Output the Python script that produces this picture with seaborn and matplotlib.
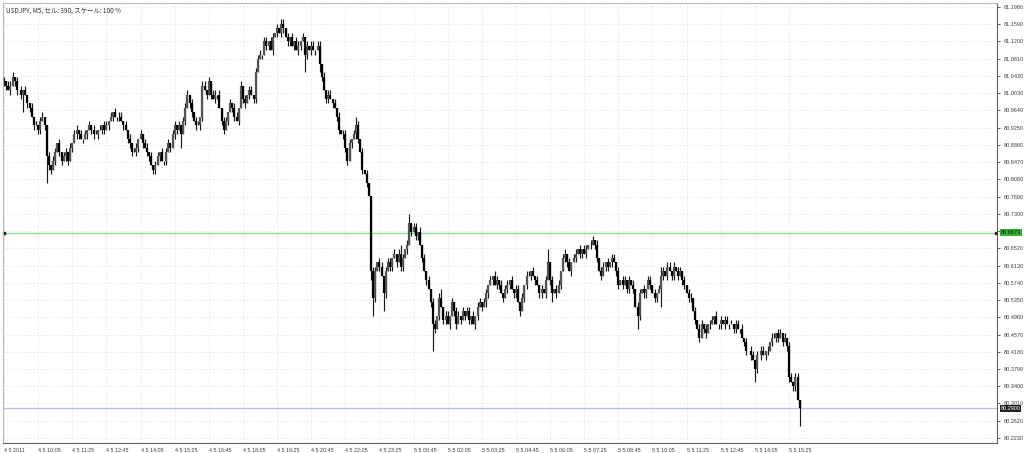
import numpy as np
import pandas as pd
import matplotlib
matplotlib.use("Agg")
import matplotlib.pyplot as plt
import matplotlib.transforms as mtransforms
import seaborn as sns

# chart header
chart_title = "USDJPY, M5, セル: 390, スケール: 100 %"

# close of every 5 minute bar, in pips above 80.00
first_open = 103
close_pips = [
    103, 102, 101, 102, 104, 103, 101, 101, 100, 101, 100, 98, 97, 95, 93, 93, 92, 94, 95, 93,
    86, 84, 83, 85, 87, 89, 87, 85, 86, 87, 85, 88, 89, 91, 92, 91, 90, 90, 91, 92,
    93, 92, 91, 91, 92, 92, 93, 92, 93, 94, 95, 96, 95, 95, 95, 94, 93, 92, 90, 89,
    87, 87, 88, 90, 91, 89, 88, 87, 86, 84, 83, 84, 86, 87, 85, 85, 87, 89, 88, 91,
    93, 92, 93, 91, 94, 97, 100, 98, 96, 94, 93, 93, 95, 102, 101, 100, 103, 100, 99, 100,
    100, 97, 94, 92, 94, 96, 98, 97, 95, 94, 97, 102, 99, 98, 100, 101, 100, 99, 105, 108,
    109, 109, 112, 111, 112, 110, 113, 114, 115, 114, 116, 115, 113, 112, 113, 111, 112, 110, 111, 112,
    113, 109, 111, 110, 111, 110, 110, 111, 107, 104, 101, 99, 100, 99, 98, 97, 95, 92, 91, 91,
    88, 85, 89, 90, 91, 93, 90, 87, 83, 82, 80, 77, 60, 54, 60, 62, 61, 59, 55, 60,
    62, 61, 63, 64, 62, 64, 61, 63, 65, 66, 71, 69, 70, 68, 69, 66, 63, 60, 58, 56,
    53, 48, 47, 50, 54, 52, 49, 50, 48, 50, 53, 51, 48, 50, 49, 51, 50, 51, 49, 50,
    48, 50, 52, 53, 52, 53, 55, 57, 58, 59, 57, 58, 57, 55, 54, 56, 57, 58, 56, 55,
    56, 53, 51, 54, 57, 59, 59, 60, 59, 58, 57, 55, 56, 55, 58, 62, 58, 55, 56, 55,
    57, 60, 63, 64, 62, 60, 62, 63, 64, 65, 64, 65, 64, 65, 66, 66, 67, 66, 63, 60,
    59, 61, 62, 61, 62, 63, 62, 60, 57, 58, 57, 58, 56, 58, 57, 56, 52, 50, 55, 56,
    55, 56, 58, 57, 55, 54, 55, 56, 59, 60, 59, 61, 60, 59, 61, 60, 59, 60, 58, 57,
    55, 54, 54, 51, 49, 47, 45, 48, 47, 46, 48, 48, 49, 50, 48, 48, 49, 48, 49, 48,
    48, 48, 47, 48, 47, 47, 45, 44, 42, 42, 41, 40, 38, 41, 41, 42, 41, 42, 42, 44,
    45, 45, 46, 45, 46, 44, 45, 43, 36, 35, 34, 36, 31, 29,
]

# upper / lower shadows in pips
wick_hi = [
    1, 0, 1, 1, 1, 0, 1, 0, 1, 0, 1, 0, 0, 1, 0, 1, 0, 1, 1, 0,
    0, 1, 0, 1, 1, 0, 1, 0, 1, 1, 0, 1, 0, 1, 1, 0, 1, 0, 1, 0,
    1, 0, 1, 1, 0, 1, 0, 1, 1, 0, 1, 0, 1, 0, 1, 1, 0, 1, 0, 1,
    0, 1, 1, 0, 1, 0, 1, 1, 0, 1, 0, 1, 1, 0, 1, 0, 1, 1, 0, 1,
    1, 0, 1, 0, 1, 1, 1, 0, 1, 0, 1, 1, 0, 1, 1, 0, 1, 0, 1, 1,
    0, 1, 0, 1, 1, 0, 1, 0, 1, 1, 0, 1, 0, 1, 0, 1, 1, 0, 1, 1,
    1, 0, 1, 1, 0, 1, 1, 0, 1, 0, 1, 1, 0, 1, 0, 1, 0, 1, 1, 0,
    1, 0, 1, 0, 1, 1, 0, 1, 1, 0, 1, 0, 1, 1, 0, 1, 0, 1, 0, 1,
    1, 0, 1, 0, 1, 2, 1, 0, 1, 0, 1, 0, 0, 1, 1, 0, 1, 1, 0, 1,
    1, 1, 0, 1, 0, 1, 2, 1, 0, 1, 2, 0, 1, 1, 0, 1, 0, 1, 0, 1,
    0, 1, 1, 0, 1, 2, 0, 1, 1, 0, 1, 0, 1, 1, 0, 1, 0, 1, 1, 0,
    1, 0, 1, 1, 0, 1, 1, 0, 1, 0, 1, 1, 0, 1, 0, 1, 1, 0, 1, 0,
    1, 1, 0, 1, 0, 1, 1, 0, 1, 0, 1, 0, 1, 0, 1, 3, 0, 1, 0, 1,
    1, 0, 1, 1, 0, 1, 0, 1, 1, 0, 1, 0, 1, 1, 0, 1, 1, 0, 1, 0,
    1, 1, 0, 1, 0, 1, 1, 0, 1, 0, 1, 1, 0, 1, 0, 1, 0, 1, 1, 0,
    1, 0, 1, 1, 0, 1, 0, 1, 2, 1, 0, 1, 1, 0, 1, 0, 1, 1, 0, 1,
    0, 1, 1, 0, 1, 0, 1, 1, 0, 1, 0, 1, 1, 0, 1, 0, 1, 0, 1, 1,
    0, 1, 0, 1, 1, 0, 1, 0, 1, 0, 1, 1, 0, 1, 0, 1, 1, 0, 1, 0,
    1, 1, 0, 1, 1, 0, 1, 0, 1, 1, 0, 1, 1, 0,
]
wick_lo = [
    1, 1, 0, 1, 0, 1, 1, 0, 1, 4, 0, 1, 1, 0, 1, 0, 1, 1, 0, 1,
    6, 1, 1, 0, 1, 0, 1, 1, 0, 1, 1, 0, 1, 0, 1, 1, 0, 1, 0, 1,
    0, 1, 1, 0, 1, 0, 1, 1, 0, 1, 0, 1, 0, 1, 1, 0, 1, 0, 1, 1,
    1, 0, 1, 1, 0, 1, 0, 1, 1, 0, 1, 1, 0, 1, 0, 1, 1, 0, 1, 0,
    1, 1, 0, 3, 0, 1, 0, 1, 1, 0, 1, 0, 1, 1, 0, 1, 0, 1, 0, 1,
    1, 0, 1, 1, 0, 1, 0, 1, 1, 0, 1, 0, 1, 1, 0, 1, 0, 1, 1, 0,
    0, 1, 0, 1, 1, 0, 1, 0, 1, 0, 1, 1, 0, 1, 1, 0, 1, 0, 1, 1,
    0, 4, 1, 0, 1, 0, 1, 0, 2, 1, 0, 1, 1, 0, 1, 0, 1, 1, 0, 1,
    1, 1, 0, 1, 0, 1, 1, 0, 1, 0, 1, 0, 2, 4, 1, 0, 1, 0, 4, 1,
    0, 1, 1, 0, 1, 0, 1, 1, 0, 1, 0, 1, 0, 1, 1, 0, 1, 0, 1, 0,
    1, 6, 1, 0, 1, 0, 1, 1, 0, 1, 0, 1, 1, 0, 1, 0, 1, 0, 1, 1,
    0, 1, 1, 0, 1, 0, 1, 1, 0, 1, 0, 1, 1, 0, 1, 0, 1, 1, 0, 1,
    1, 0, 1, 0, 1, 1, 0, 1, 0, 1, 0, 1, 1, 0, 1, 0, 1, 2, 0, 1,
    0, 1, 0, 1, 1, 0, 1, 0, 1, 0, 1, 1, 0, 1, 0, 1, 0, 1, 1, 0,
    1, 0, 1, 1, 0, 1, 0, 1, 1, 0, 1, 0, 1, 1, 0, 1, 0, 3, 1, 0,
    1, 1, 0, 1, 0, 1, 1, 0, 4, 1, 0, 1, 0, 1, 1, 0, 1, 0, 1, 1,
    0, 1, 1, 0, 1, 0, 1, 0, 1, 1, 0, 1, 0, 1, 0, 1, 1, 0, 1, 0,
    1, 0, 1, 1, 0, 1, 0, 1, 1, 0, 1, 0, 3, 1, 0, 1, 0, 1, 1, 0,
    1, 0, 1, 1, 0, 1, 0, 1, 1, 0, 1, 1, 0, 4,
]

# time axis labels, one every 16 bars
bars_per_label = 16
time_labels = ["4 5 2011", "4 5 10:05", "4 5 11:25", "4 5 12:45", "4 5 14:05", "4 5 15:25",
               "4 5 16:45", "4 5 18:05", "4 5 19:25", "4 5 20:45", "4 5 22:05", "4 5 23:25",
               "5 5 00:45", "5 5 02:05", "5 5 03:25", "5 5 04:45", "5 5 06:05", "5 5 07:25",
               "5 5 08:45", "5 5 10:05", "5 5 11:25", "5 5 12:45", "5 5 14:05", "5 5 15:25"]

# price axis labels
price_labels = ["81.1980", "81.1590", "81.1200", "81.0810", "81.0420", "81.0030", "80.9640",
                "80.9250", "80.8860", "80.8470", "80.8080", "80.7690", "80.7300", "80.6910",
                "80.6520", "80.6130", "80.5740", "80.5350", "80.4960", "80.4570", "80.4180",
                "80.3790", "80.3400", "80.3010", "80.2620", "80.2230"]

level_line = 80.6873
bid_line = 80.2900

# ---- build OHLC table
df = pd.DataFrame({"close": np.array(close_pips) / 100 + 80})
df["open"] = df["close"].shift(1).fillna(80 + first_open / 100)
df["high"] = df[["open", "close"]].max(axis=1) + np.array(wick_hi) / 100
df["low"] = df[["open", "close"]].min(axis=1) - np.array(wick_lo) / 100
df["bar"] = np.arange(len(df))
df["up"] = df["close"] >= df["open"]

sns.set_theme(style="white")
plt.rcParams["font.family"] = ["Liberation Sans", "DejaVu Sans"]

fig = plt.figure(figsize=(10.24, 4.53), dpi=100)
ax = fig.add_axes([3 / 1024, 10 / 453, 994 / 1024, 440 / 453])
ax.set_facecolor("white")

ax.set_xlim(-0.47, 465.5)
ax.set_ylim(80.2116, 81.2070)

# grid
tick_bars = np.arange(len(time_labels)) * bars_per_label
yvals = [float(v) for v in price_labels]
for xb in tick_bars:
    ax.axvline(xb, color="#e0e0e0", lw=0.6, ls=(0, (1.5, 2.5)), zorder=0)
for yv in yvals:
    ax.axhline(yv, color="#e0e0e0", lw=0.6, ls=(0, (1.5, 2.5)), zorder=0)

# reference lines
ax.axhline(level_line, color="#86dd86", lw=0.9, zorder=1)
ax.plot([0, 465], [level_line, level_line], ls="none", marker="s", ms=2,
        color="#1a1a1a", zorder=2, clip_on=False)
ax.axhline(bid_line, color="#aac3e6", lw=0.9, zorder=1)

# candles
ax.vlines(df["bar"], df["low"], df["high"], color="#1a1a1a", lw=0.85, zorder=3)
up = df[df["up"]]
dn = df[~df["up"]]
ax.vlines(up["bar"], up["open"], up["close"], color="#555555", lw=1.6, zorder=4)
ax.vlines(dn["bar"], dn["open"], dn["close"], color="#000000", lw=1.6, zorder=4)

# axes - the label hidden under the level box is left blank
shown_labels = ["" if abs(v - level_line) < 0.006 else s for v, s in zip(yvals, price_labels)]
ax.yaxis.tick_right()
ax.set_yticks(yvals)
ax.set_yticklabels(shown_labels)
ax.set_xticks(tick_bars)
ax.set_xticklabels(time_labels, ha="left")
ax.tick_params(axis="y", length=2, pad=2.5, labelsize=4.0, colors="#404040", width=0.6)
ax.tick_params(axis="x", length=2, pad=1.5, labelsize=3.9, colors="#404040", width=0.6)
ax.set_xlabel("")
ax.set_ylabel("")
for side in ["left", "top"]:
    ax.spines[side].set_color("#b8b8b8")
    ax.spines[side].set_linewidth(0.8)
for side in ["right", "bottom"]:
    ax.spines[side].set_color("#606060")
    ax.spines[side].set_linewidth(0.8)

trans = mtransforms.blended_transform_factory(ax.transAxes, ax.transData)
ax.text(1.0035, level_line, f"{level_line:.4f}", transform=trans, fontsize=4.0,
        color="#101010", va="center", ha="left",
        bbox=dict(facecolor="#2fb52f", edgecolor="none", pad=0.7), zorder=6, clip_on=False)
ax.text(1.0035, bid_line, f"{bid_line:.4f}", transform=trans, fontsize=4.0,
        color="white", va="center", ha="left",
        bbox=dict(facecolor="#202020", edgecolor="none", pad=0.7), zorder=6, clip_on=False)

ax.text(0.003, 0.992, chart_title, transform=ax.transAxes, fontsize=4.6, color="#303030",
        va="top", ha="left", family=["Noto Sans CJK JP", "DejaVu Sans"])

fig.savefig("out.png", dpi=100)
